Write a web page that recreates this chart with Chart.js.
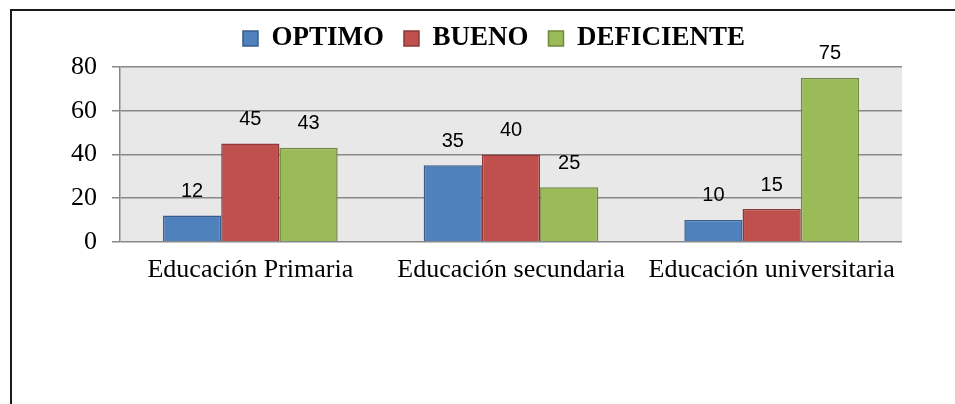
<!DOCTYPE html>
<html>
<head>
<meta charset="utf-8">
<script src="https://cdn.jsdelivr.net/npm/chart.js@4"></script>
<style>
  html, body { margin: 0; padding: 0; background: #fff; }
  #frame {
    position: absolute; left: 10px; top: 9px; right: 0; bottom: 0;
    border-top: 2px solid #1a1a1a; border-left: 2px solid #1a1a1a;
  }
  #wrap { position: absolute; left: 0; top: 0; width: 955px; height: 404px; }
</style>
</head>
<body>
<div id="frame"></div>
<div id="wrap"><canvas id="chart" width="955" height="404"></canvas></div>
<script>
const categories = ['Educación Primaria', 'Educación secundaria', 'Educación universitaria'];
const seriesNames = ['OPTIMO', 'BUENO', 'DEFICIENTE'];
const optimo = [12, 35, 10];
const bueno = [45, 40, 15];
const deficiente = [43, 25, 75];
const yTicks = [0, 20, 40, 60, 80];

const fills = ['#4f81bd', '#c0504d', '#9bbb59'];
const borders = ['#385d8a', '#8c3836', '#71893f'];

// grey plot background
const plotBg = {
  id: 'plotBg',
  beforeDraw(chart) {
    const { ctx, chartArea: a } = chart;
    ctx.save();
    ctx.fillStyle = '#e8e8e8';
    ctx.fillRect(a.left, a.top, a.right - a.left, a.bottom - a.top);
    ctx.restore();
  }
};

// legend: fixed height and centred a bit to the right, like the original
const legendTweak = {
  id: 'legendTweak',
  beforeLayout(chart) {
    const lg = chart.legend;
    if (lg && !lg._tweaked) {
      const fit = lg.fit;
      lg.fit = function () { fit.call(this); this.height = 62; };
      lg._tweaked = true;
    }
  },
  afterLayout(chart) {
    if (chart.legend) chart.legend.left += 86;
  }
};

// value labels over each bar
const valueLabels = {
  id: 'valueLabels',
  afterDatasetsDraw(chart) {
    const ctx = chart.ctx;
    ctx.save();
    ctx.font = '20px "Liberation Sans", Arial, sans-serif';
    ctx.fillStyle = '#000';
    ctx.textAlign = 'center';
    ctx.textBaseline = 'middle';
    chart.data.datasets.forEach((ds, i) => {
      chart.getDatasetMeta(i).data.forEach((bar, j) => {
        ctx.fillText(String(ds.data[j]), bar.x, bar.y - 24);
      });
    });
    ctx.restore();
  }
};

const serif = '"Liberation Serif", "Times New Roman", serif';

new Chart(document.getElementById('chart'), {
  type: 'bar',
  data: {
    labels: categories,
    datasets: [optimo, bueno, deficiente].map((vals, i) => ({
      label: seriesNames[i],
      data: vals,
      backgroundColor: fills[i],
      borderColor: borders[i],
      borderWidth: 1.5,
      categoryPercentage: 0.67,
      barPercentage: 1.0
    }))
  },
  options: {
    responsive: false,
    animation: false,
    layout: { padding: { left: 0, right: 53, top: 5, bottom: 105 } },
    plugins: {
      tooltip: { enabled: false },
      legend: {
        position: 'top',
        labels: {
          boxWidth: 15,
          boxHeight: 15,
          padding: 20,
          color: '#000',
          font: { family: serif, size: 27, weight: 'bold' }
        }
      }
    },
    scales: {
      x: {
        grid: { display: false, drawTicks: false },
        border: { display: false },
        ticks: {
          color: '#000',
          padding: 13,
          maxRotation: 0,
          autoSkip: false,
          font: { family: serif, size: 26 }
        }
      },
      y: {
        min: 0,
        max: 80,
        afterFit(scale) { scale.width = 120; },
        afterBuildTicks(scale) { scale.ticks = yTicks.map(v => ({ value: v })); },
        grid: { color: '#888888', lineWidth: 1.5, tickLength: 8, drawTicks: true },
        border: { display: true, color: '#888888', width: 1.5 },
        ticks: {
          color: '#000',
          padding: 15,
          font: { family: serif, size: 26 }
        }
      }
    }
  },
  plugins: [plotBg, legendTweak, valueLabels]
});
</script>
</body>
</html>
